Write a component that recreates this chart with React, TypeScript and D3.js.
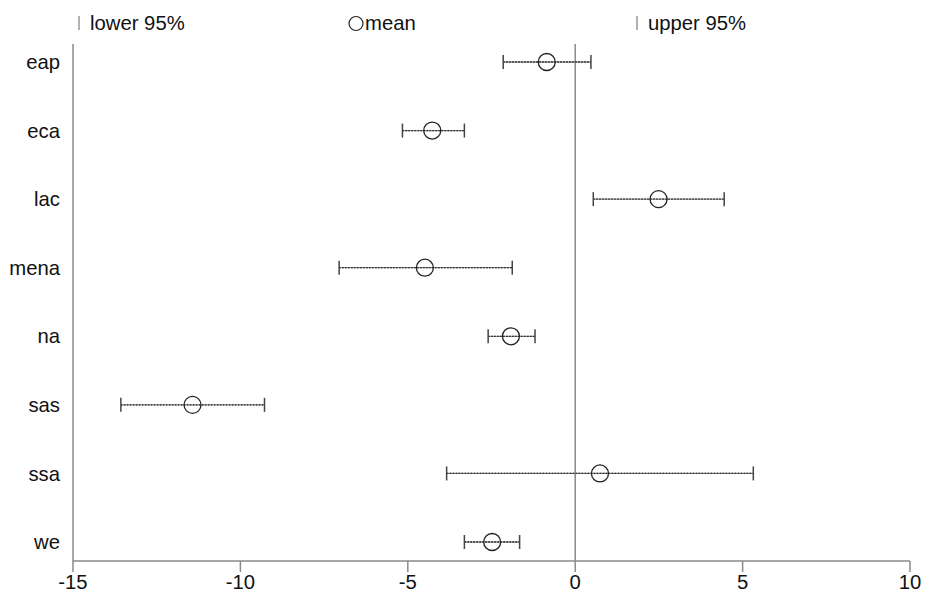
import React from "react";
import * as d3 from "d3";

const categories = ["eap", "eca", "lac", "mena", "na", "sas", "ssa", "we"];
const lower95 = [-2.15, -5.16, 0.54, -7.05, -2.6, -13.57, -3.84, -3.31];
const means = [-0.85, -4.27, 2.49, -4.49, -1.92, -11.43, 0.74, -2.48];
const upper95 = [0.47, -3.31, 4.45, -1.88, -1.2, -9.28, 5.32, -1.66];
const xTicks = [-15, -10, -5, 0, 5, 10];

const W = 925;
const H = 593;
const FONT = "'Liberation Sans', Arial, Helvetica, sans-serif";
const FS = 20.3;

export default function App() {
  const x = d3.scaleLinear().domain([-15, 10]).range([73, 910]);
  const y = d3.scalePoint<string>().domain(categories).range([62, 542]);
  const plotTop = 44;
  const plotBottom = 561;
  const axisColor = "#8a8a8a";
  const cap = 7;

  return (
    <svg
      width={W}
      height={H}
      style={{ position: "absolute", left: 0, top: 0, background: "#fff" }}
      fontFamily={FONT}
    >
      <rect x={0} y={0} width={W} height={H} fill="#fff" />
      {/* legend */}
      <line x1={79} x2={79} y1={16} y2={30} stroke={axisColor} strokeWidth={1.3} />
      <text x={90} y={30} fontSize={FS} fill="#111">lower 95%</text>
      <circle cx={356} cy={23.5} r={7} fill="none" stroke="#222" strokeWidth={1.2} />
      <text x={365} y={30} fontSize={FS} fill="#111">mean</text>
      <line x1={637} x2={637} y1={16} y2={30} stroke={axisColor} strokeWidth={1.3} />
      <text x={648} y={30} fontSize={FS} fill="#111">upper 95%</text>

      {/* left axis */}
      <line x1={x(-15)} x2={x(-15)} y1={plotTop} y2={plotBottom} stroke={axisColor} strokeWidth={1.5} />
      {/* zero line */}
      <line x1={x(0)} x2={x(0)} y1={plotTop} y2={plotBottom} stroke={axisColor} strokeWidth={1.5} />
      {/* bottom axis */}
      <line x1={x(-15)} x2={x(10)} y1={plotBottom} y2={plotBottom} stroke={axisColor} strokeWidth={1.5} />
      {xTicks.map((t) => (
        <g key={t}>
          <line x1={x(t)} x2={x(t)} y1={plotBottom} y2={plotBottom + 11} stroke={axisColor} strokeWidth={1.5} />
          <text x={x(t)} y={589} fontSize={FS} textAnchor="middle" fill="#111">
            {t}
          </text>
        </g>
      ))}

      {/* y labels */}
      {categories.map((c) => (
        <text
          key={c}
          x={60}
          y={(y(c) as number)}
          dy="0.35em"
          fontSize={FS}
          textAnchor="end"
          fill="#111"
        >
          {c}
        </text>
      ))}

      {/* intervals */}
      {categories.map((c, i) => {
        const yy = y(c) as number;
        const x0 = x(lower95[i]);
        const x1 = x(upper95[i]);
        const xm = x(means[i]);
        return (
          <g key={c}>
            <line x1={x0} x2={x1} y1={yy} y2={yy} stroke="#8a8a8a" strokeWidth={1.3} />
            <line x1={x0} x2={x1} y1={yy} y2={yy} stroke="#222" strokeWidth={1.3} strokeDasharray="1.5 1.5" />
            <line x1={x0} x2={x0} y1={yy - cap} y2={yy + cap} stroke="#444" strokeWidth={1.5} />
            <line x1={x1} x2={x1} y1={yy - cap} y2={yy + cap} stroke="#444" strokeWidth={1.5} />
            <circle cx={xm} cy={yy} r={8.5} fill="none" stroke="#222" strokeWidth={1.3} />
          </g>
        );
      })}
    </svg>
  );
}
